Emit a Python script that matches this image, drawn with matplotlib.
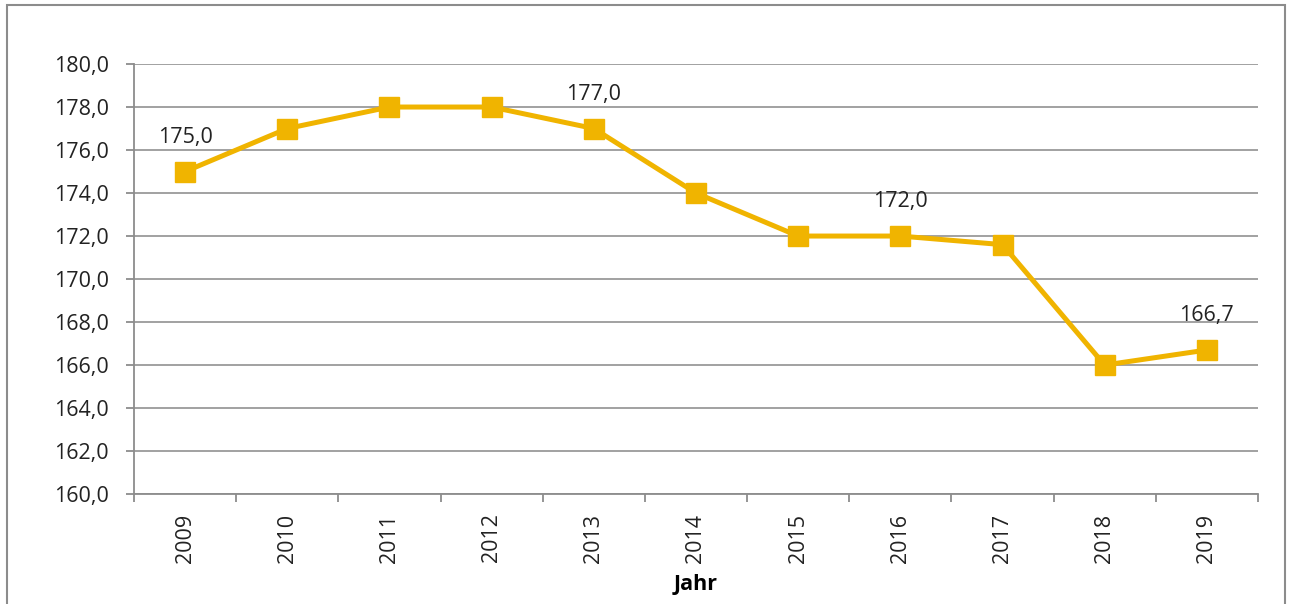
import numpy as np
import matplotlib
matplotlib.use("Agg")
import matplotlib.pyplot as plt
from matplotlib.patches import Rectangle

years = ["2009", "2010", "2011", "2012", "2013", "2014", "2015", "2016", "2017", "2018", "2019"]
values = [175.0, 177.0, 178.0, 178.0, 177.0, 174.0, 172.0, 172.0, 171.6, 166.0, 166.7]
labeled = ["2009", "2013", "2016", "2019"]
yticks = [160, 162, 164, 166, 168, 170, 172, 174, 176, 178, 180]

plt.rcParams['font.family'] = ['Open Sans', 'DejaVu Sans']

gold = '#F0B400'
gray = '#8C8C8C'

fig = plt.figure(figsize=(12.91, 6.04), dpi=100)
ax = fig.add_axes([0.1038, 0.182, 0.8706, 0.712])

x = np.arange(len(years))
ax.plot(x, values, color=gold, lw=3.6, marker='s', markersize=14, zorder=3)

for i, (yr, v) in enumerate(zip(years, values)):
    if yr in labeled:
        ax.annotate(f"{v:.1f}".replace('.', ','), (i, v), xytext=(0, 17),
                    textcoords='offset points', ha='center', va='bottom', fontsize=15.5, color='#222222')

ax.set_ylim(160, 180)
ax.set_yticks(yticks)
ax.set_yticklabels([f"{t:.1f}".replace('.', ',') for t in yticks], fontsize=15.5, color='#222222')
ax.grid(axis='y', color='#9A9A9A', lw=1.3)
ax.set_axisbelow(True)

ax.set_xlim(-0.5, len(years) - 0.5)
ax.set_xticks(x)
ax.set_xticklabels(years, rotation=90, fontsize=15.5, color='#222222')
ax.set_xticks(np.arange(-0.5, len(years)), minor=True)
ax.tick_params(axis='x', which='major', length=0, pad=14)
ax.tick_params(axis='x', which='minor', length=6, width=1.3, color=gray, direction='out')
ax.tick_params(axis='y', length=6, width=1.3, color=gray, pad=12)

for s in ['top', 'right']:
    ax.spines[s].set_visible(False)
for s in ['left', 'bottom']:
    ax.spines[s].set_color(gray)
    ax.spines[s].set_linewidth(1.3)

ax.set_xlabel("Jahr", fontsize=15.5, fontweight='bold', labelpad=8)

border = Rectangle((0.0054, -0.02), 0.99, 1.0117, transform=fig.transFigure,
                   fill=False, edgecolor=gray, lw=1.5)
fig.patches.append(border)

fig.savefig("out.png", dpi=100)
